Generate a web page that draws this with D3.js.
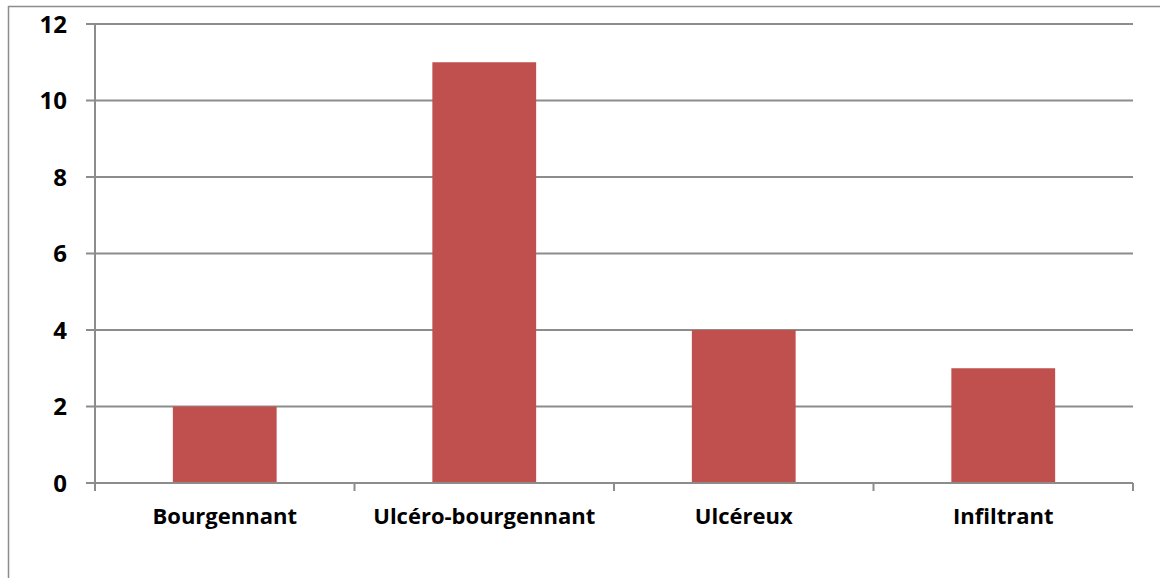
<!DOCTYPE html>
<html>
<head>
<meta charset="utf-8">
<script src="https://cdn.jsdelivr.net/npm/d3@7"></script>
<style>
  body { margin: 0; background: #fff; }
  text { font-family: "Open Sans", Lato, sans-serif; font-weight: bold; fill: #000; }
</style>
</head>
<body>
<svg width="1160" height="578"></svg>
<script>
const categories = ["Bourgennant", "Ulcéro-bourgennant", "Ulcéreux", "Infiltrant"];
const values = [2, 11, 4, 3];
const yTicks = [0, 2, 4, 6, 8, 10, 12];

const svg = d3.select("svg");
const plotLeft = 95, plotRight = 1133, plotTop = 24, plotBottom = 483;
const grey = "#8c8c8c";

// outer frame (runs off right/bottom edge like the original)
svg.append("rect")
  .attr("x", 8.5).attr("y", 6.5)
  .attr("width", 1200).attr("height", 700)
  .attr("fill", "none").attr("stroke", grey).attr("stroke-width", 1.5);

const x = d3.scaleBand().domain(categories).range([plotLeft, plotRight]).paddingInner(0.6).paddingOuter(0.3);
const xb = d3.scaleBand().domain(categories).range([plotLeft, plotRight]);
const y = d3.scaleLinear().domain([0, 12]).range([plotBottom, plotTop]);

// gridlines + y ticks
svg.append("g")
  .selectAll("line")
  .data(yTicks)
  .enter()
  .append("line")
  .attr("x1", plotLeft - 9).attr("x2", plotRight)
  .attr("y1", d => y(d)).attr("y2", d => y(d))
  .attr("stroke", grey).attr("stroke-width", 2);

svg.append("g")
  .selectAll("text")
  .data(yTicks)
  .enter()
  .append("text")
  .attr("x", 67).attr("y", d => y(d))
  .attr("dy", "0.36em")
  .attr("text-anchor", "end")
  .style("font-size", "24px")
  .text(d => d);

// bars
svg.append("g")
  .selectAll("rect")
  .data(values)
  .enter()
  .append("rect")
  .attr("x", (d, i) => x(categories[i]))
  .attr("width", x.bandwidth())
  .attr("y", d => y(d))
  .attr("height", d => y(0) - y(d))
  .attr("fill", "#c0504d");

// axis lines
svg.append("line")
  .attr("x1", plotLeft).attr("x2", plotLeft).attr("y1", plotTop).attr("y2", plotBottom + 7)
  .attr("stroke", grey).attr("stroke-width", 2);
svg.append("line")
  .attr("x1", plotLeft).attr("x2", plotRight).attr("y1", plotBottom).attr("y2", plotBottom)
  .attr("stroke", grey).attr("stroke-width", 2);

// x ticks at category boundaries
const bounds = categories.map(c => xb(c)).concat([plotRight]);
svg.append("g")
  .selectAll("line")
  .data(bounds)
  .enter()
  .append("line")
  .attr("x1", d => d).attr("x2", d => d)
  .attr("y1", plotBottom).attr("y2", plotBottom + 8)
  .attr("stroke", grey).attr("stroke-width", 2);

// category labels
svg.append("g")
  .selectAll("text")
  .data(categories)
  .enter()
  .append("text")
  .attr("x", d => x(d) + x.bandwidth() / 2)
  .attr("y", 524)
  .attr("text-anchor", "middle")
  .style("font-size", "22px")
  .text(d => d);
</script>
</body>
</html>
